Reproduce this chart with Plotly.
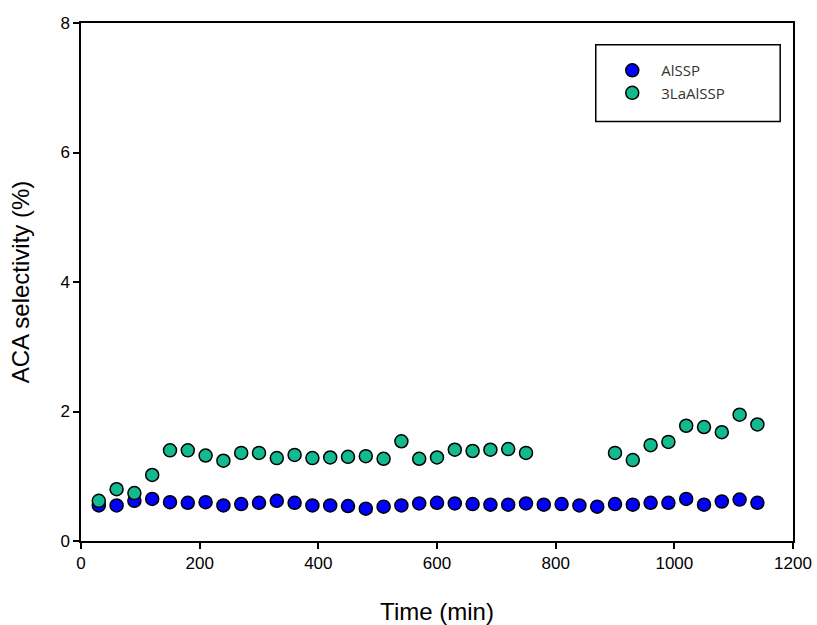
import plotly.graph_objects as go

# Reaction time (min)
time_alssp = [30, 60, 90, 120, 150, 180, 210, 240, 270, 300, 330, 360, 390, 420,
              450, 480, 510, 540, 570, 600, 630, 660, 690, 720, 750, 780, 810, 840,
              870, 900, 930, 960, 990, 1020, 1050, 1080, 1110, 1140]
sel_alssp = [0.55, 0.55, 0.62, 0.65, 0.60, 0.59, 0.60, 0.55, 0.57, 0.59, 0.62, 0.59,
             0.55, 0.55, 0.54, 0.50, 0.53, 0.55, 0.58, 0.59, 0.58, 0.57, 0.56, 0.56,
             0.58, 0.56, 0.57, 0.55, 0.53, 0.57, 0.56, 0.59, 0.59, 0.65, 0.56, 0.61,
             0.64, 0.59]

time_la = [30, 60, 90, 120, 150, 180, 210, 240, 270, 300, 330, 360, 390, 420, 450,
           480, 510, 540, 570, 600, 630, 660, 690, 720, 750,
           900, 930, 960, 990, 1020, 1050, 1080, 1110, 1140]
sel_la = [0.62, 0.80, 0.74, 1.02, 1.40, 1.40, 1.32, 1.24, 1.36, 1.36, 1.28, 1.33,
          1.28, 1.29, 1.30, 1.31, 1.27, 1.54, 1.27, 1.29, 1.41, 1.39, 1.41, 1.42,
          1.36, 1.36, 1.25, 1.48, 1.53, 1.78, 1.76, 1.68, 1.95, 1.80]

x_ticks = [0, 200, 400, 600, 800, 1000, 1200]
y_ticks = [0, 2, 4, 6, 8]

marker_line = dict(color="black", width=1.5)

fig = go.Figure()
fig.add_trace(go.Scatter(
    x=time_alssp, y=sel_alssp, mode="markers", name="AlSSP",
    marker=dict(size=13, color="#0000FF", line=marker_line),
    legendgroup="a",
))
fig.add_trace(go.Scatter(
    x=time_la, y=sel_la, mode="markers", name="3LaAlSSP",
    marker=dict(size=13, color="#13B98F", line=marker_line),
    legendgroup="b",
))

axis_common = dict(
    showline=True, linecolor="black", linewidth=1.5, mirror=True,
    ticks="outside", ticklen=6, tickwidth=1.5, tickcolor="black",
    showgrid=False, zeroline=False, automargin=False,
    tickfont=dict(family="Liberation Sans, Arial", size=17, color="black"),
)
title_font = dict(family="Liberation Sans, Arial", size=24, color="black")

fig.update_layout(
    width=817, height=625,
    margin=dict(l=81, r=24, t=23, b=84, autoexpand=False),
    plot_bgcolor="white", paper_bgcolor="white",
    xaxis=dict(range=[0, 1200], tickvals=x_ticks,
               title=dict(text="Time (min)", standoff=32, font=title_font),
               **axis_common),
    yaxis=dict(range=[0, 8], tickvals=y_ticks,
               title=dict(text="ACA selectivity (%)", standoff=24, font=title_font),
               **axis_common),
    showlegend=True,
    legend=dict(
        x=0.7335, y=0.94, xanchor="left", yanchor="top",
        bgcolor="rgba(0,0,0,0)", borderwidth=0,
        font=dict(family="Open Sans", size=15, color="#333333"),
        tracegroupgap=0, itemwidth=48,
    ),
    shapes=[dict(type="rect", xref="paper", yref="paper",
                 x0=0.723, x1=0.982, y0=0.81, y1=0.958,
                 line=dict(color="black", width=1.5), fillcolor="white", layer="below")],
)

fig.write_html("out.html")
